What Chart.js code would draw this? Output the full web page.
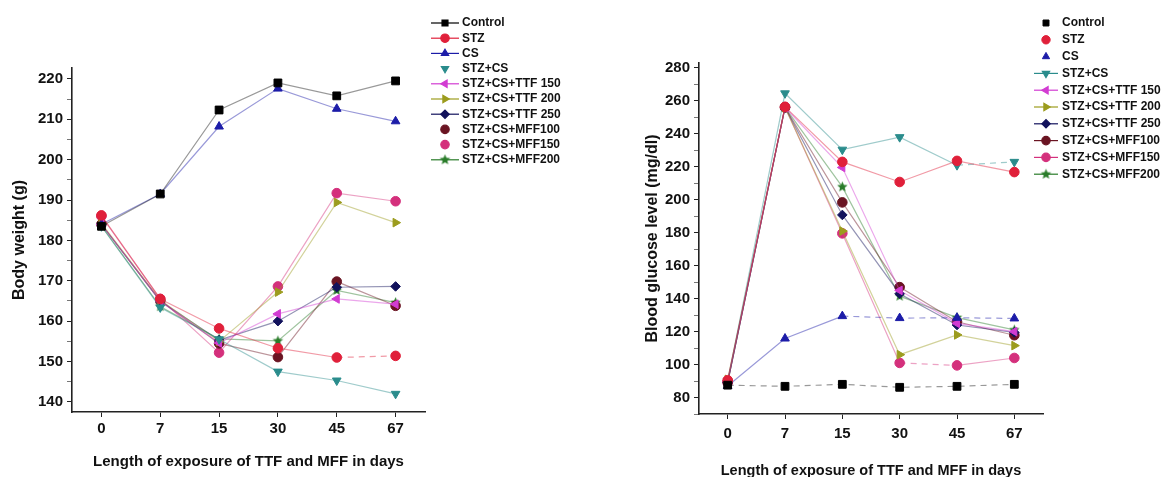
<!DOCTYPE html>
<html>
<head>
<meta charset="utf-8">
<script src="https://cdn.jsdelivr.net/npm/chart.js@4/dist/chart.umd.min.js"></script>
<style>
    html, body { margin: 0; padding: 0; background: #fff; }
    #wrap { position: relative; width: 1161px; height: 477px; }
    .box { position: absolute; top: 0; height: 477px; }
</style>
</head>
<body>
<div id="wrap">
    <div class="box" style="left:0;width:580px"><canvas id="bw"></canvas></div>
    <div class="box" style="left:580px;width:581px"><canvas id="bg"></canvas></div>
</div>
<script>
const days = ["0", "7", "15", "30", "45", "67"];
const groups = ["Control", "STZ", "CS", "STZ+CS", "STZ+CS+TTF 150", "STZ+CS+TTF 200",
    "STZ+CS+TTF 250", "STZ+CS+MFF100", "STZ+CS+MFF150", "STZ+CS+MFF200"];

// body weight (g)
const bwControl = [183.5, 191.5, 212.3, 219.0, 215.8, 219.5];
const bwSTZ     = [186.2, 165.5, 158.2, 153.3, 151.0, 151.4];
const bwCS      = [184.0, 191.5, 208.2, 217.6, 212.6, 209.5];
const bwSTZCS   = [183.5, 163.4, 155.5, 147.5, 145.3, 142.0];
const bwTTF150  = [184.0, 165.0, 154.6, 161.8, 165.5, 164.2];
const bwTTF200  = [184.2, 165.2, 155.0, 167.2, 189.4, 184.4];
const bwTTF250  = [184.0, 165.0, 155.3, 160.0, 168.4, 168.6];
const bwMFF100  = [184.0, 165.0, 154.5, 151.1, 169.8, 163.8];
const bwMFF150  = [186.0, 165.5, 152.2, 168.6, 191.7, 189.7];
const bwMFF200  = [183.6, 163.6, 155.6, 155.1, 167.6, 164.6];

// blood glucose level (mg/dl)
const bgControl = [87.5, 86.8, 88.0, 86.2, 86.8, 88.0];
const bgSTZ     = [90.5, 256.4, 223.0, 210.8, 223.6, 216.8];
const bgCS      = [87.0, 115.8, 129.4, 128.2, 128.4, 128.0];
const bgSTZCS   = [90.0, 264.6, 230.4, 238.0, 221.0, 223.0];
const bgTTF150  = [90.0, 256.0, 219.6, 145.0, 125.0, 120.0];
const bgTTF200  = [91.0, 256.0, 181.0, 106.0, 118.0, 111.5];
const bgTTF250  = [89.0, 256.0, 190.8, 143.0, 124.0, 119.5];
const bgMFF100  = [89.5, 256.0, 198.4, 147.0, 126.0, 117.8];
const bgMFF150  = [89.0, 256.3, 179.6, 101.0, 99.5, 104.0];
const bgMFF200  = [89.0, 256.0, 207.8, 141.5, 128.5, 121.0];

const colors = ["#000000", "#e0203a", "#1c1ca8", "#2a8c8c", "#d23cd2",
    "#9c9c1e", "#12125c", "#6a1422", "#d4307c", "#2a7c2a"];

const FONT = '"Liberation Sans", Arial, sans-serif';

function makeStar(color, r) {
    const c = document.createElement("canvas");
    c.width = c.height = Math.ceil(r * 2 + 2);
    const g = c.getContext("2d");
    g.fillStyle = color;
    g.beginPath();
    for (let i = 0; i < 10; i++) {
        const a = -Math.PI / 2 + i * Math.PI / 5;
        const rr = i % 2 ? r * 0.45 : r;
        g.lineTo(c.width / 2 + rr * Math.cos(a), c.height / 2 + rr * Math.sin(a));
    }
    g.closePath();
    g.fill();
    return c;
}

const shapes = ["rect", "circle", "triangle", "triangle", "triangle", "triangle",
    "rectRot", "circle", "circle", makeStar(colors[9], 5.5)];
const rotations = [0, 0, 0, 180, -90, 90, 0, 0, 0, 0];
const radii = [5.5, 4.8, 5, 5, 5, 5, 4.8, 4.8, 4.8, 5];

function fade(hex, a) {
    const n = parseInt(hex.slice(1), 16);
    return `rgba(${n >> 16},${(n >> 8) & 255},${n & 255},${a})`;
}

function buildDatasets(series, dashed) {
    return series.map((data, i) => ({
        label: groups[i],
        data: data,
        borderColor: fade(colors[i], i === 0 ? 0.4 : 0.45),
        borderWidth: 1.2,
        pointBackgroundColor: colors[i],
        pointBorderColor: colors[i],
        pointBorderWidth: 1,
        pointStyle: shapes[i],
        pointRotation: rotations[i],
        pointRadius: radii[i],
        tension: 0,
        segment: { borderDash: ctx => dashed[i].includes(ctx.p0DataIndex) ? [6, 5] : undefined }
    }));
}

const sideLegend = {
    id: "sideLegend",
    afterDraw(chart, args, o) {
        const ctx = chart.ctx;
        ctx.save();
        ctx.font = "bold 12px " + FONT;
        ctx.textBaseline = "middle";
        chart.data.datasets.forEach((ds, i) => {
            const y = o.y + i * o.step;
            ctx.strokeStyle = ds.pointBackgroundColor;
            ctx.fillStyle = ds.pointBackgroundColor;
            if (o.lines[i]) {
                ctx.lineWidth = 1.2;
                ctx.beginPath();
                ctx.moveTo(o.x0, y);
                ctx.lineTo(o.x1, y);
                ctx.stroke();
            }
            Chart.helpers.drawPoint(ctx, { pointStyle: ds.pointStyle, rotation: ds.pointRotation, radius: 4.2, borderWidth: 1 }, o.xs, y);
            ctx.fillStyle = "#111";
            ctx.fillText(ds.label, o.xt, y);
        });
        ctx.restore();
    }
};

function makeChart(id, series, dashed, cfg) {
    return new Chart(document.getElementById(id), {
        type: "line",
        data: { labels: days, datasets: buildDatasets(series, dashed) },
        options: {
            responsive: true,
            maintainAspectRatio: false,
            animation: false,
            layout: { padding: { top: cfg.top, right: cfg.right, left: 0, bottom: 0 } },
            plugins: { legend: { display: false }, tooltip: { enabled: false }, sideLegend: cfg.legend },
            scales: {
                x: {
                    type: "category",
                    offset: true,
                    afterFit: s => { s.height = cfg.xHeight; },
                    grid: { offset: false, drawOnChartArea: false, tickLength: 5, tickColor: "#222" },
                    border: { color: "#222", width: 1.6 },
                    ticks: { color: "#111", padding: cfg.xPad, font: { family: FONT, weight: "bold", size: 15 } },
                    title: { display: true, text: "Length of exposure of TTF and MFF in days", color: "#111",
                        padding: { top: 0, bottom: cfg.xTitlePad }, font: { family: FONT, weight: "bold", size: cfg.xTitleSize } }
                },
                y: {
                    min: cfg.min,
                    max: cfg.max,
                    afterFit: s => { s.width = cfg.yWidth; },
                    afterBuildTicks: s => {
                        s.ticks = s.ticks.filter(t => Math.abs(t.value / cfg.minor - Math.round(t.value / cfg.minor)) < 1e-6);
                    },
                    grid: {
                        drawOnChartArea: false, tickLength: 5,
                        tickColor: c => (c.tick && c.tick.value % cfg.major !== 0) ? "#777" : "#222"
                    },
                    border: { color: "#222", width: 1.6 },
                    ticks: {
                        stepSize: cfg.minor, autoSkip: false, includeBounds: false, color: "#111", padding: 4,
                        font: { family: FONT, weight: "bold", size: 15 },
                        callback: v => (v % cfg.major === 0 ? v : "")
                    },
                    title: { display: true, text: cfg.yTitle, color: "#111",
                        padding: { top: cfg.yTitlePad, bottom: 0 }, font: { family: FONT, weight: "bold", size: 16 } }
                }
            }
        },
        plugins: [sideLegend]
    });
}

makeChart("bw",
    [bwControl, bwSTZ, bwCS, bwSTZCS, bwTTF150, bwTTF200, bwTTF250, bwMFF100, bwMFF150, bwMFF200],
    [[], [4], [], [], [], [], [], [], [], []],
    {
        top: 68, right: 155, yWidth: 72, xHeight: 65, min: 137.5, max: 222.7, minor: 5, major: 10,
        xPad: 3, xTitlePad: 6, xTitleSize: 15, yTitlePad: 10, yTitle: "Body weight (g)",
        legend: { x0: 431, x1: 459, xs: 445, xt: 462, y: 23, step: 15.2,
            lines: [1, 1, 1, 0, 1, 1, 1, 0, 0, 1] }
    });

makeChart("bg",
    [bgControl, bgSTZ, bgCS, bgSTZCS, bgTTF150, bgTTF200, bgTTF250, bgMFF100, bgMFF150, bgMFF200],
    [[0, 1, 2, 3, 4], [], [2, 3, 4], [4], [], [], [], [], [3], []],
    {
        top: 63, right: 118, yWidth: 119, xHeight: 63, min: 70, max: 283, minor: 10, major: 20,
        xPad: 6, xTitlePad: -3, xTitleSize: 14.5, yTitlePad: 63, yTitle: "Blood glucose level (mg/dl)",
        legend: { x0: 454, x1: 478, xs: 466, xt: 482, y: 23, step: 16.8,
            lines: [0, 0, 0, 1, 1, 1, 1, 1, 1, 1] }
    });
</script>
</body>
</html>
